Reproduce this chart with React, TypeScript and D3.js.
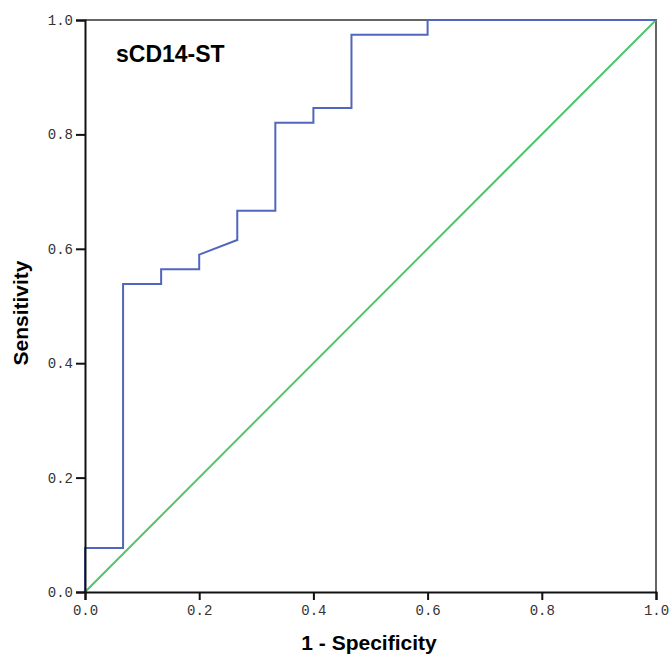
import React, { useEffect, useRef } from 'react';
import * as d3 from 'd3';

// ROC points (1 - specificity, sensitivity)
const fpr = [0, 0, 1 / 15, 1 / 15, 2 / 15, 2 / 15, 3 / 15, 3 / 15, 4 / 15, 4 / 15, 5 / 15, 5 / 15, 6 / 15, 6 / 15, 7 / 15, 7 / 15, 9 / 15, 9 / 15, 1];
const tpr = [0, 3 / 39, 3 / 39, 21 / 39, 21 / 39, 22 / 39, 22 / 39, 23 / 39, 24 / 39, 26 / 39, 26 / 39, 32 / 39, 32 / 39, 33 / 39, 33 / 39, 38 / 39, 38 / 39, 1, 1];
const refLine = [0, 1];
const ticks = [0, 0.2, 0.4, 0.6, 0.8, 1.0];

function App() {
  const ref = useRef<SVGSVGElement>(null);

  useEffect(() => {
    const svg = d3.select(ref.current);
    svg.selectAll('*').remove();

    const left = 85, right = 656, top = 20, bottom = 592;
    const x = d3.scaleLinear().domain([0, 1]).range([left, right]);
    const y = d3.scaleLinear().domain([0, 1]).range([bottom, top]);

    // top / right frame
    svg.append('path')
      .attr('d', `M${left},${top}H${right}V${bottom}`)
      .attr('fill', 'none')
      .attr('stroke', '#666')
      .attr('stroke-width', 2);

    // diagonal reference
    svg.append('line')
      .attr('x1', x(refLine[0])).attr('y1', y(refLine[0]))
      .attr('x2', x(refLine[1])).attr('y2', y(refLine[1]))
      .attr('stroke', '#52c46c')
      .attr('stroke-width', 2);

    // roc curve
    const pts = fpr.map((f, i) => [f, tpr[i]] as [number, number]);
    const line = d3.line<[number, number]>().x(d => x(d[0])).y(d => y(d[1]));
    svg.append('path')
      .attr('d', line(pts))
      .attr('fill', 'none')
      .attr('stroke', '#5166bd')
      .attr('stroke-width', 2);

    const fmt = d3.format('.1f');

    // x axis
    const xAxis = svg.append('g')
      .attr('transform', `translate(0,${bottom})`)
      .call(d3.axisBottom(x).tickValues(ticks).tickFormat(d => fmt(d as number)).tickSize(8).tickPadding(5));
    xAxis.select('.domain').attr('stroke', '#111').attr('stroke-width', 2);
    xAxis.selectAll('.tick line').attr('stroke', '#111').attr('stroke-width', 2);
    xAxis.selectAll('text')
      .attr('fill', '#333')
      .style('font-family', '"Liberation Mono", monospace')
      .style('font-size', '14px');

    // y axis
    const yAxis = svg.append('g')
      .attr('transform', `translate(${left},0)`)
      .call(d3.axisLeft(y).tickValues(ticks).tickFormat(d => fmt(d as number)).tickSize(9).tickPadding(3));
    yAxis.select('.domain').attr('stroke', '#111').attr('stroke-width', 2);
    yAxis.selectAll('.tick line').attr('stroke', '#111').attr('stroke-width', 2);
    yAxis.selectAll('text')
      .attr('fill', '#333')
      .style('font-family', '"Liberation Mono", monospace')
      .style('font-size', '14px');

    // titles
    svg.append('text')
      .attr('x', 369)
      .attr('y', 650)
      .attr('text-anchor', 'middle')
      .style('font-family', '"Liberation Sans", Arial, sans-serif')
      .style('font-weight', 'bold')
      .style('font-size', '21px')
      .text('1 - Specificity');

    svg.append('text')
      .attr('transform', `translate(28,313) rotate(-90)`)
      .attr('text-anchor', 'middle')
      .style('font-family', '"Liberation Sans", Arial, sans-serif')
      .style('font-weight', 'bold')
      .style('font-size', '21px')
      .text('Sensitivity');

    svg.append('text')
      .attr('x', 116)
      .attr('y', 62)
      .style('font-family', '"Liberation Sans", Arial, sans-serif')
      .style('font-weight', 'bold')
      .style('font-size', '23px')
      .text('sCD14-ST');
  }, []);

  return (
    <svg ref={ref} width={671} height={657} style={{ position: 'absolute', left: 0, top: 0, background: 'white' }} />
  );
}

export default App;
